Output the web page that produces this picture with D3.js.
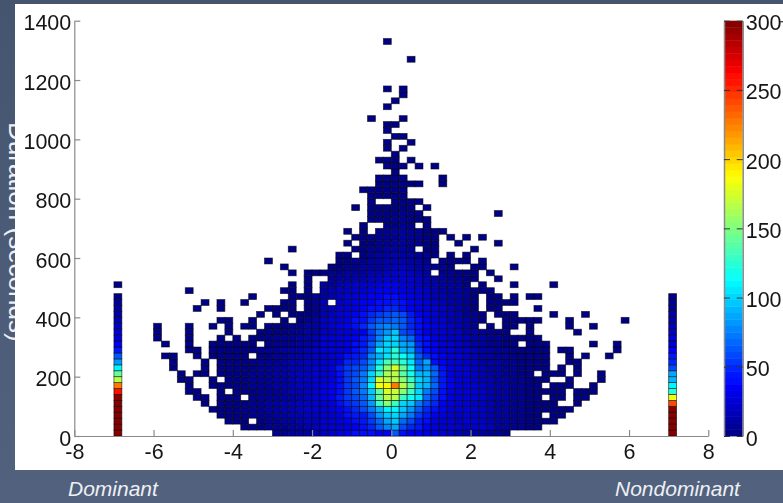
<!DOCTYPE html>
<html>
<head>
<meta charset="utf-8">
<script src="https://cdn.jsdelivr.net/npm/d3@7"></script>
<style>
html,body{margin:0;padding:0;background:#4b5a76;overflow:hidden}
text{font-family:"Liberation Sans",Arial,sans-serif}
.axis text{font-size:21.5px;fill:#151515}
.axis path,.axis line{stroke:#8a8a8a;stroke-width:1.2}
.cbar line{stroke:#333;stroke-width:1}
.cbar path{stroke:#8a8a8a;stroke-width:1.5}
</style>
</head>
<body>
<svg class="chart" width="783" height="503"></svg>
<script>
// one list per 20 s row from the bottom: first item is the first column (0.2 wide, 0 = 0..0.2), then counts, 0 = empty
const rowCounts = [
[-15, 6,8,10,12,14,16, 20,24,30,34,38,42,40,36,36,62,38,36,36,32,30,24,20,16, 14,12,10,8,6,4],
[-19, 1,2,3,5,6,8,12,14,18,20, 24,24,28,32,36,40,50,62,75,85,60,50,44,34,30,28,26,24, 22,26,24,20,14,10,8,5,3,2],
[-21, 1,2,2,0,4,6,9,12,14,16,20,22, 24,26,30,36,40,46,56,70,85,95,70,60,46,38,32,28,24,22, 24,26,22,18,14,12,8,6,4,3,2,1],
[-22, 1,1,2,3,5,6,8,10,13,16,18,20,22, 26,28,32,38,46,44,60,82,95,100,85,72,54,46,36,30,26,22, 24,22,20,16,12,10,7,5,3,2, 0, 1,1],
[-23, 1,1,2,3,5,6,9,11,14,16,18,20,24,24, 28,30,36,42,48,58,72,90,110,110,95,80,62,50,40,34,28,24, 24,24,20,16,14,10,8,6,4,3,2,1,1,1],
[-24, 1,0, 1,2,3,4,6,8,10,13,16,18,20,22,24, 28,30,42,50,56,62,82,130,150,130,100,95,72,58,48,36,30,26, 26,22,20,16,14,10,8,6,4,2,2,1, 0,0, 1],
[-25, 1,1,0, 1,1,2,0, 4,5,6,9,12,14,18,20,24, 30,34,46,54,60,68,90,145,165,165,130,115,105,68,54,40,32,26, 26,24,22,18,14,10,8,5,3,2, 0, 1,1, 0, 1,1],
[-26, 1,1,0,0, 1,0, 1,2,4,5,7,9,12,15,18,22,26, 32,36,42,54,64,72,95,140,175,170,150,130,100,72,58,42,32,28, 26,24,20,18,14,12,8,6,4,3,2,1,1, 0, 1,1,1],
[-26, 1,0,0, 1,1, 2,3,3,5,7,9,12,14,18,20,22,26, 30,34,42,52,60,78,110,185,190,225,165,145,98,90,68,46,34,28, 28,24,22,16,12,10,8,5,3,2, 0, 1,1,1, 0,0, 1],
[-27, 1,1,0,0, 1,0, 1,2,3,5,6,9,12,14,18,20,22,24, 28,32,42,52,62,72,100,175,165,165,150,130,100,92,62,46,34,28, 28,22,18,16,12,10,6,5,3,2,1, 0,0, 1, 0,0,0, 1],
[-27, 1,0, 1,1,0, 1,1,2,3,5,6,8,10,13,16,20,22,26, 28,32,40,52,60,72,100,130,160,165,140,120,92,92,66,44,32,28, 26,22,18,14,12,8,5,3,2, 0, 1,1,1, 0, 1, 0,0, 1],
[-28, 1,0,0,0, 1,0, 1,1,2,3,4,6,8,10,14,16,18,22,24, 26,30,44,56,58,64,82,125,150,175,145,115,74,80,62,40,30,26, 24,20,16,12,10,8,6,4,3,2,1, 0, 1, 0, 1],
[-28, 1,0,0,0, 1,0, 1,1,1,3,4,5,7,9,12,15,18,20,22, 24,28,30,50,48,60,78,105,135,135,125,105,66,88,42,36,28,24, 22,20,14,12,10,7,5,4,2,2,1, 0,0, 1,1],
[-29, 1,1,0,0, 1,0, 1,1,1,2,2,0, 3,4,6,8,11,13,16,20, 22,26,30,40,44,50,76,90,105,125,115,100,62,50,40,34,26,24, 20,18,14,10,8,6,4,3,2,1,1, 0,0, 1, 0, 1, 0,0, 1],
[-26, 1,1,0, 1,1,1,2,2,3,5,6,8,10,12,14,18,20, 24,24,28,32,40,48,64,105,100,125,90,85,54,42,34,26,24,22, 20,16,12,10,7,5,3,2,2,1,1, 0, 1,1, 0,0,0,0,0, 1],
[-29, 1,0,0, 1,0,0, 1,1,1,1,2,2,0, 4,5,6,8,10,13,18, 24,24,26,32,38,44,64,85,100,100,88,82,50,38,34,28,24,20, 18,14,10,8,6,4,2, 0, 1,1,1, 0,0,0,0,0, 1, 0,0, 1],
[-30, 1,0,0,0, 1,0,0,0, 1,0, 1,0, 1,2,3,5,7,8,10,12,16, 24,24,26,30,34,46,56,78,95,100,75,68,46,38,32,26,22,20, 16,12,10,8,5,3,2,2,1,1],
[-30, 1,0,0,0, 1,0,0,0,0, 1,0,0,0, 1,2,3,4,6,8,10,14, 22,22,24,26,32,36,56,72,82,95,60,55,38,32,28,24,22,20, 14,10,8,5,3,2, 0,0, 1, 0,0,0,0,0, 1],
[-30, 1,0,0,0, 1,0,0, 1,0, 1,0, 1,1,0, 2,3,4,5,8,10,14, 22,26,30,36,40,48,62,72,75,72,65,48,42,34,30,26,20,18, 12,8, 0, 1, 0, 1,1, 0, 1, 0,0,0,0, 1, 0,0, 1],
[-22, 1,1,0,0, 1,0,0,0, 1,0, 3,6,10, 20,24,28,32,38,42,52,62,65,68,62,50,40,32,28,24,18,16, 10,6,3, 0,0, 1,1,2,1,1, 0,0,0, 1, 0,0,0,0,0,0, 1],
[-17, 1,0, 1,0, 1,3,4,8, 18,22,26,30,36,38,48,55,58,62,58,45,36,30,26,22,18,16, 9,5,2, 0, 1,1,1, 0,0,0,0, 1, 0,0,0, 1],
[-25, 1,0,0, 1,0,0,0,0,0, 1,1,1,2,0, 4,7, 18,20,24,28,32,36,38,42,50,48,42,36,32,26,24,20,16,14, 8,4, 0, 1,1, 0,0,0,0, 1],
[-24, 1,0, 1,0,0, 1,0,0,0,0, 1,1,0, 3,6, 16,0,22,26,30,34,36,40,40,45,38,34,30,24,20,16,14,14, 6,3, 0, 1,1,1,1],
[-18, 1,0,0,0,0, 1,2,3,6, 14,18,20,24,26,30,34,36,38,40,36,32,26,22,18,16,14,12, 5,2, 0, 1,1, 0, 1, 0, 1,1],
[-26, 1,0,0,0,0,0,0,0,0,0,0,0, 1,1,0, 2,0, 12,16,20,22,24,26,30,34,36,36,32,28,24,20,18,14,12,10, 5,3,2,1],
[-13, 1,0, 1,0, 10,14,18,20,24,26,28,32,34,34,30,26,22,18,16,14,12,10, 4,0, 1, 0,0,0, 1, 0,0,0,0, 1],
[-11, 1,0,0, 8,10,12,16,18,20,22,26,28,28,24,20,16,12,10,8,6, 3,1, 0,0, 1],
[-13, 1,0, 1,2,4,6,8,10,12,14,16,18,22,26,24,20,16,14, 0, 8,6,4,2,1, 0, 1],
[-14, 1,0,0,0,0,0, 2,4,6,8,10,12,14,16,20,20,16,14,10,8,6,4, 0,0, 1,1, 0,0,0, 1],
[-16, 1,0,0,0,0,0,0,0,0, 2,4,6,8,12,14,16,18,18,14,10,6, 0, 4,3,2,1, 0, 1],
[-7, 1,2,0, 4,6,10,12,16,14,12,8,6,4, 0, 1, 0, 1],
[-13, 1,0,0,0,0,0,0,0, 1,3,6,8,12,12,10,8, 0, 2,1, 0,0,0,0, 1],
[-6, 1,0, 2,4,6,8,10,10,8,6,3,2, 0,0, 1, 0,0,0,0, 1],
[-5, 1,2,3,5,7,9,10,7,5,3,2, 0, 1, 0, 1, 0, 1],
[-6, 1,0, 1,0, 5,6,10,12,8,6,4,2,1],
[-4, 1,0,0, 3,4,6,4, 0, 1],
[-3, 1,2,3,5,6,4,3,1],
[-3, 1,2,3,4,5,3,2, 0,0,0,0,0,0,0,0,0, 1],
[-5, 1,0, 1,2,3,4,4,2, 0, 1],
[-3, 1,0,0, 3,2,2,1],
[-3, 1,2,2,3,2],
[-4, 1,1,2,2,3,2],
[-2, 1,2,3,2,1,1, 0,0, 1],
[-2, 1,2,3,2, 0,0,0,0, 1],
[0, 1],
[-1, 1,2,1, 0, 1, 0, 1],
[-2, 1,1,2, 0, 1],
[0, 1],
[-1, 1,0,1],
[-1, 1,0,0,1],
[0, 1,1],
[-1, 1],
[-1, 1,1],
[-3, 1,0,0,0,1],
[],
[-1, 1],
[0, 1],
[1, 1],
[-1, 1,0,1],
[],[],[],[],
[2, 1],
[],[],
[-1, 1]
]
// side bars, counts per 20 s row from the bottom (the dark red ones are over the top of the scale)
const dominantCounts = [300,300,300,300,300,300,300,258,225,165,145,110,80,65,45,35,28,24,20,18,14,10,7,4,0,2]
const nondominantCounts = [300,300,300,300,300,240,185,125,112,90,85,58,50,45,35,28,24,20,18,14,10,7,6,3]
const dominantCol = -35, nondominantCol = 35

const xTicks = [-8,-6,-4,-2,0,2,4,6,8]
const yTicks = [0,200,400,600,800,1000,1200,1400]
const colorTicks = [0,50,100,150,200,250,300]
const yLabel = 'Duration (seconds)'
const sideLabels = ['Dominant','Nondominant']

const binW = 0.2, binH = 20

const svg = d3.select('.chart')
const defs = svg.append('defs')
const bg = defs.append('linearGradient').attr('id','bg').attr('x1',0).attr('y1',0).attr('x2',0).attr('y2',1)
bg.append('stop').attr('offset','0%').attr('stop-color','#45546f')
bg.append('stop').attr('offset','100%').attr('stop-color','#52627e')
defs.append('filter').attr('id','soft').attr('x','-2%').attr('y','-2%').attr('width','104%').attr('height','104%')
  .append('feGaussianBlur').attr('stdDeviation',0.45)

svg.append('rect').attr('width',783).attr('height',503).attr('fill','url(#bg)')

// label sits under the white panel, it is cut off in the slide too
svg.append('text')
  .attr('transform','translate(8.5,122) rotate(90)')
  .attr('font-size',26).attr('fill','#eef0f4')
  .text(yLabel)
svg.append('rect').attr('x',15).attr('y',4).attr('width',768).attr('height',466).attr('fill','#fff')

let x = d3.scaleLinear().domain([-8,8]).range([74.3,708.3]),
    y = d3.scaleLinear().domain([0,1400]).range([436,20.7]),
    cy = d3.scaleLinear().domain([0,300]).range([436,20.7])

// matlab jet, 64 steps
function jet(i){
  let t = (i+0.5)/64*4
  let ch = c => Math.round(255*Math.max(0,Math.min(1,1.5-Math.abs(t-c))))
  return d3.rgb(ch(3),ch(2),ch(1)).formatHex()
}
let levels = d3.range(64)
let color = d3.scaleQuantize().domain([0,300]).range(levels.map(jet))

// flatten into cells
let cells = []
rowCounts.forEach((row,r) => {
  row.slice(1).forEach((v,i) => { if(v>0) cells.push({col:row[0]+i,row:r,v:v}) })
})
dominantCounts.forEach((v,r) => { if(v>0) cells.push({col:dominantCol,row:r,v:v}) })
nondominantCounts.forEach((v,r) => { if(v>0) cells.push({col:nondominantCol,row:r,v:v}) })

let focus = svg.append('g').attr('filter','url(#soft)')

focus.selectAll('rect.cell')
  .data(cells)
  .enter().append('rect')
  .attr('class','cell')
  .attr('x', d => x(d.col*binW))
  .attr('y', d => y((d.row+1)*binH))
  .attr('width', d => x((d.col+1)*binW)-x(d.col*binW))
  .attr('height', d => y(d.row*binH)-y((d.row+1)*binH))
  .attr('fill', d => color(d.v))
  .attr('stroke','#000').attr('stroke-width',0.8).attr('stroke-opacity',0.65)

let xAxis = d3.axisBottom(x).tickValues(xTicks).tickSizeInner(-6).tickSizeOuter(0).tickPadding(8).tickFormat(d => String(d)),
    yAxis = d3.axisLeft(y).tickValues(yTicks).tickSizeInner(-6).tickSizeOuter(0).tickPadding(3).tickFormat(d => String(d))

focus.append('g').attr('class','axis').attr('transform','translate(0,436)').call(xAxis)
focus.append('g').attr('class','axis').attr('transform','translate(74.3,0)').call(yAxis)
  .selectAll('text').attr('dy','0.42em')

// colorbar
focus.selectAll('rect.band')
  .data(levels)
  .enter().append('rect')
  .attr('class','band')
  .attr('x',724).attr('width',18.7)
  .attr('y', d => cy((d+1)/64*300))
  .attr('height', d => cy(d/64*300)-cy((d+1)/64*300)+0.4)
  .attr('fill', d => jet(d))

let cAxisR = d3.axisRight(cy).tickValues(colorTicks).tickSizeInner(-6).tickSizeOuter(0).tickPadding(3),
    cAxisL = d3.axisLeft(cy).tickValues(colorTicks).tickSizeInner(-6).tickSizeOuter(0).tickFormat('')
focus.append('g').attr('class','axis cbar').attr('transform','translate(742.7,0)').call(cAxisR)
  .selectAll('text').attr('dy','0.42em')
focus.append('g').attr('class','axis cbar').attr('transform','translate(724,0)').call(cAxisL)
focus.append('line').attr('x1',780).attr('x2',783).attr('y1',cy(300)+1).attr('y2',cy(300)+1)
  .attr('stroke','#333').attr('stroke-width',1.2)

// captions on the slide
svg.selectAll('text.side')
  .data(sideLabels)
  .enter().append('text')
  .attr('class','side')
  .attr('x', (d,i) => i ? 615 : 68)
  .attr('y',496)
  .attr('font-size',21).attr('font-style','italic').attr('fill','#eef0f4')
  .text(d => d)
</script>
</body>
</html>
